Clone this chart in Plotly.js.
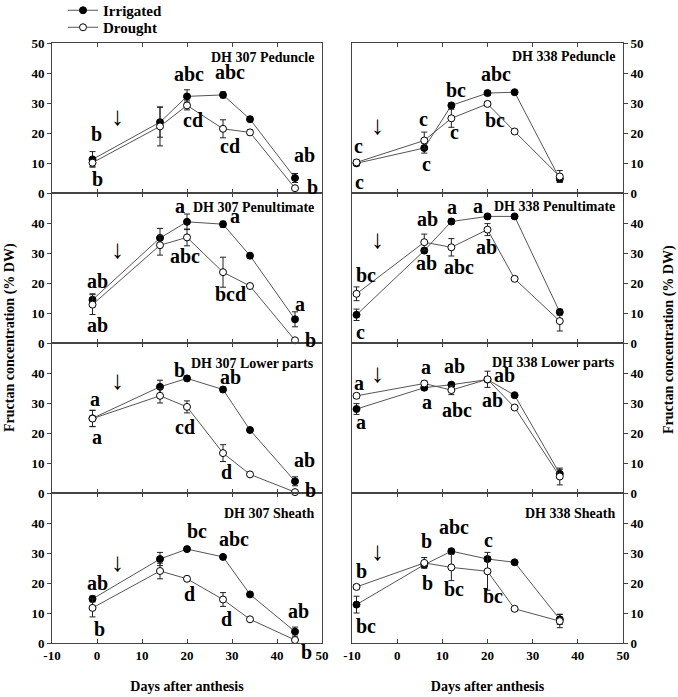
<!DOCTYPE html>
<html>
<head>
<meta charset="utf-8">
<script src="https://cdn.plot.ly/plotly-3.0.1.min.js"></script>
<style>html,body{margin:0;padding:0;background:#fff;}#chart{width:678px;height:697px;}</style>
</head>
<body>
<div id="chart"></div>
<script>
// ---------- DATA ----------
const days307 = [-1, 14, 20, 28, 34, 44];
const days338 = [-9, 6, 12, 20, 26, 36];
const xTicks = [-10, 0, 10, 20, 30, 40, 50];
const yTicksTop = [0, 10, 20, 30, 40, 50];
const yTicksLower = [0, 10, 20, 30, 40];
const seriesNames = ['Irrigated', 'Drought'];
const panelTitles = ['DH 307 Peduncle', 'DH 307 Penultimate', 'DH 307 Lower parts', 'DH 307 Sheath',
                     'DH 338 Peduncle', 'DH 338 Penultimate', 'DH 338 Lower parts', 'DH 338 Sheath'];
const xTitle = 'Days after anthesis';
const yTitle = 'Fructan concentration (% DW)';

const irr307Ped = [11.2, 23.6, 32.2, 32.7, 24.6, 5.0];
const dro307Ped = [10.1, 22.2, 29.2, 21.4, 20.2, 1.6];
const errIrr307Ped = [2.6, 5.0, 2.2, 1.0, 0.8, 1.5];
const errDro307Ped = [1.2, 6.5, 1.5, 3.0, 0.8, 0.6];

const irr307Pen = [14.4, 35.0, 40.4, 39.6, 29.1, 7.9];
const dro307Pen = [12.8, 32.6, 35.2, 23.6, 19.0, 0.9];
const errIrr307Pen = [2.0, 3.2, 2.6, 1.0, 0.8, 2.5];
const errDro307Pen = [3.3, 3.3, 2.8, 5.0, 0.8, 0.5];

const irr307Low = [24.9, 35.4, 38.2, 34.5, 21.0, 3.9];
const dro307Low = [24.8, 32.4, 28.7, 13.3, 6.2, 0.3];
const errIrr307Low = [2.7, 2.2, 0.8, 0.8, 0.6, 1.5];
const errDro307Low = [2.7, 2.4, 2.0, 2.8, 0.6, 0.4];

const irr307She = [14.7, 28.0, 31.3, 28.7, 16.2, 3.8];
const dro307She = [11.7, 24.0, 21.4, 14.5, 7.9, 1.0];
const errIrr307She = [1.0, 2.2, 0.8, 0.8, 0.6, 1.5];
const errDro307She = [3.0, 2.6, 0.8, 2.3, 0.6, 0.5];

const irr338Ped = [9.9, 15.0, 29.2, 33.3, 33.6, 4.7];
const dro338Ped = [10.2, 17.5, 24.9, 29.7, 20.5, 5.5];
const errIrr338Ped = [0.8, 1.7, 0.8, 0.8, 0.6, 1.0];
const errDro338Ped = [0.8, 2.8, 3.0, 0.8, 0.6, 2.0];

const irr338Pen = [9.4, 30.8, 40.5, 42.2, 42.2, 10.3];
const dro338Pen = [16.4, 33.6, 31.9, 37.8, 21.4, 7.3];
const errIrr338Pen = [1.9, 0.8, 0.8, 0.8, 0.6, 1.0];
const errDro338Pen = [2.3, 2.7, 2.9, 2.0, 0.6, 3.3];

const irr338Low = [28.0, 35.1, 36.1, 37.8, 32.6, 6.4];
const dro338Low = [32.4, 36.5, 34.3, 37.9, 28.5, 5.5];
const errIrr338Low = [1.8, 0.8, 0.8, 0.8, 0.6, 1.5];
const errDro338Low = [0.8, 0.8, 1.5, 2.7, 0.6, 2.8];

const irr338She = [12.8, 26.1, 30.6, 28.0, 26.9, 7.9];
const dro338She = [18.7, 26.7, 25.2, 23.9, 11.4, 7.3];
const errIrr338She = [2.8, 0.8, 0.8, 0.8, 0.6, 1.7];
const errDro338She = [0.8, 1.8, 4.4, 6.3, 0.6, 2.2];

// significance letters attached to points
const letIrr307Ped = ['b', '', 'abc', 'abc', '', 'ab'];
const letDro307Ped = ['b', '', 'cd', 'cd', '', 'b'];
const letIrr307Pen = ['ab', '', 'a', 'a', '', 'a'];
const letDro307Pen = ['ab', '', 'abc', 'bcd', '', 'b'];
const letIrr307Low = ['a', '', 'b', 'ab', '', 'ab'];
const letDro307Low = ['a', '', 'cd', 'd', '', 'b'];
const letIrr307She = ['ab', '', 'bc', 'abc', '', 'ab'];
const letDro307She = ['b', '', 'd', 'd', '', 'b'];
const letIrr338Ped = ['c', 'c', 'bc', 'abc', '', ''];
const letDro338Ped = ['c', 'c', 'c', 'bc', '', ''];
const letIrr338Pen = ['c', 'ab', 'a', 'a', '', ''];
const letDro338Pen = ['bc', 'ab', 'abc', 'ab', '', ''];
const letIrr338Low = ['a', 'a', 'ab', 'ab', '', ''];
const letDro338Low = ['a', 'a', 'abc', 'ab', '', ''];
const letIrr338She = ['bc', 'b', 'abc', 'c', '', ''];
const letDro338She = ['b', 'b', 'bc', 'bc', '', ''];

// ---------- STYLE / POSITIONS (pixel offsets of letters from their points) ----------
const offIrr = [
  [[3.6,25.5],null,[1.8,22.8],[7.2,22.8],null,[9,22.5]],
  [[4.5,19.2],null,[-6.8,15.9],[12.2,8.4],null,[4.5,15.6]],
  [[2.3,18.9],null,[-7.7,8.7],[7.2,12.6],null,[9,21.3]],
  [[5,15.9],null,[9.9,17.7],[10.8,18],null,[3.2,20.4]],
  [[2.3,17.7],[2.3,-15.9],[4.5,15],[8.6,19.5],null,null],
  [[4.1,-17.1],[2.3,-12.6],[0.9,14.1],[-9.9,10.5],null,null],
  [[4.1,-12.6],[2.3,-14.1],[2.7,19.2],[16.7,4.2],null,null],
  [[9.9,-21.6],[3.2,-18.3],[2.7,24],[0.9,19.2],null,null]
];
const offDro = [
  [[4.5,-16.2],null,[5.9,-15],[6.8,-16.8],null,[17.1,0.9]],
  [[5.4,-20.7],null,[-1.8,-18.3],[7.2,-21.6],null,[15.3,0]],
  [[4.5,-18],null,[-1.8,-20.4],[3.2,-19.2],null,[15.3,2.4]],
  [[7.2,-20.7],null,[2.3,-14.7],[3.2,-19.2],null,[11.3,-12]],
  [[3.2,-19.8],[-0.5,21.6],[3.2,-13.8],[7.2,-16.5],null,null],
  [[9,18.3],[3.2,23.1],[7.7,-20.1],[-0.9,-17.7],null,null],
  [[2.3,12.9],[1.4,16.5],[5.4,-20.1],[5,-21],null,null],
  [[5.4,15.6],[2.3,21.6],[2.7,-21.6],[5.9,-24.3],null,null]
];
const arrowX = [4.5, 4.5, 4.5, 4.5, -4.3, -4.3, -4.3, -4.3];
const arrowY = [25.5, 31, 37.6, 27, 22.5, 34.6, 40, 30.5];
const titleY = [0.906, 0.906, 0.862, 0.866, 0.91, 0.91, 0.872, 0.866];

const panels = [
  {days: days307, irr: irr307Ped, dro: dro307Ped, eI: errIrr307Ped, eD: errDro307Ped, lI: letIrr307Ped, lD: letDro307Ped},
  {days: days307, irr: irr307Pen, dro: dro307Pen, eI: errIrr307Pen, eD: errDro307Pen, lI: letIrr307Pen, lD: letDro307Pen},
  {days: days307, irr: irr307Low, dro: dro307Low, eI: errIrr307Low, eD: errDro307Low, lI: letIrr307Low, lD: letDro307Low},
  {days: days307, irr: irr307She, dro: dro307She, eI: errIrr307She, eD: errDro307She, lI: letIrr307She, lD: letDro307She},
  {days: days338, irr: irr338Ped, dro: dro338Ped, eI: errIrr338Ped, eD: errDro338Ped, lI: letIrr338Ped, lD: letDro338Ped},
  {days: days338, irr: irr338Pen, dro: dro338Pen, eI: errIrr338Pen, eD: errDro338Pen, lI: letIrr338Pen, lD: letDro338Pen},
  {days: days338, irr: irr338Low, dro: dro338Low, eI: errIrr338Low, eD: errDro338Low, lI: letIrr338Low, lD: letDro338Low},
  {days: days338, irr: irr338She, dro: dro338She, eI: errIrr338She, eD: errDro338She, lI: letIrr338She, lD: letDro338She}
];

const W = 678, H = 697;
const FONT = 'Liberation Serif, Times New Roman, serif';
const colX = [[52 / W, 322 / W], [352 / W, 623 / W]];
const rowTopPx = [43, 193, 343, 493, 643];
const lineCol = '#555';
const axisCol = '#444';
const legendFont = {family: FONT, size: 15, weight: 'bold', color: '#000'};

const traces = [];
const layout = {
  width: W, height: H, autosize: false,
  margin: {l: 0, r: 0, t: 0, b: 0, autoexpand: false},
  paper_bgcolor: '#fff', plot_bgcolor: '#fff',
  font: {family: FONT, size: 13, color: '#000', weight: 'bold'},
  showlegend: true,
  legend: {x: 63 / W, y: 1 + 6 / H, xanchor: 'left', yanchor: 'top', bgcolor: 'rgba(0,0,0,0)',
           font: legendFont, tracegroupgap: 0, itemwidth: 30},
  legend2: {x: 63 / W, y: 1 - 11 / H, xanchor: 'left', yanchor: 'top', bgcolor: 'rgba(0,0,0,0)',
           font: legendFont, tracegroupgap: 0, itemwidth: 30},
  annotations: []
};

panels.forEach((p, i) => {
  const col = i < 4 ? 0 : 1;
  const row = i % 4;
  const n = i + 1;
  const xa = 'x' + (n === 1 ? '' : n), ya = 'y' + (n === 1 ? '' : n);
  const xKey = 'xaxis' + (n === 1 ? '' : n), yKey = 'yaxis' + (n === 1 ? '' : n);
  const yDom = [1 - rowTopPx[row + 1] / H, 1 - rowTopPx[row] / H];
  layout[xKey] = {
    domain: colX[col], anchor: ya, range: [-10, 50], tickvals: xTicks, ticktext: xTicks.map(v => v < 0 ? '-' + Math.abs(v) : String(v)),
    showticklabels: row === 3, ticks: 'inside', ticklen: 4, tickcolor: axisCol, mirror: 'ticks',
    showline: true, linecolor: axisCol, linewidth: 1, showgrid: false, zeroline: false, fixedrange: true,
    tickfont: {family: FONT, size: 13, weight: 'bold'}
  };
  if (row === 3) {
    layout[xKey].title = {text: xTitle, font: {family: FONT, size: 14, weight: 'bold'}, standoff: 19};
  }
  layout[yKey] = {
    domain: yDom, anchor: xa, range: [0, 50], tickvals: row === 0 ? yTicksTop : yTicksLower,
    side: col === 0 ? 'left' : 'right', ticks: 'outside', ticklen: 4, tickcolor: axisCol, mirror: true,
    showline: true, linecolor: axisCol, linewidth: 1, showgrid: false, zeroline: false, fixedrange: true,
    tickfont: {family: FONT, size: 13, weight: 'bold'}
  };
  const series = [
    {y: p.irr, e: p.eI, fill: '#000', name: seriesNames[0], lets: p.lI, offs: offIrr[i], leg: 'legend'},
    {y: p.dro, e: p.eD, fill: '#fff', name: seriesNames[1], lets: p.lD, offs: offDro[i], leg: 'legend2'}
  ];
  series.forEach((s, k) => {
    traces.push({
      type: 'scatter', mode: 'lines+markers', x: p.days, y: s.y, xaxis: xa, yaxis: ya,
      name: s.name, showlegend: i === 0, legend: s.leg,
      line: {color: lineCol, width: 1},
      marker: {symbol: 'circle', size: 7, color: s.fill, line: {color: '#000', width: 1}},
      error_y: {type: 'data', array: s.e, visible: true, color: '#222', thickness: 1, width: 3},
      cliponaxis: false
    });
    s.lets.forEach((t, j) => {
      if (!t) return;
      const o = s.offs[j];
      layout.annotations.push({
        xref: xa, yref: ya, x: p.days[j], y: s.y[j], xshift: o[0], yshift: o[1],
        text: t, showarrow: false, xanchor: 'center', yanchor: 'middle',
        font: {family: FONT, size: 20, weight: 'bold', color: '#000'}
      });
    });
  });
  // panel title
  layout.annotations.push({
    xref: xa + ' domain', yref: ya + ' domain', x: 0.978, y: titleY[i], xanchor: 'right', yanchor: 'middle',
    text: panelTitles[i], showarrow: false, font: {family: FONT, size: 14, weight: 'bold', color: '#000'}
  });
  // arrow marking onset
  layout.annotations.push({
    xref: xa, yref: ya, x: arrowX[i], y: arrowY[i], xanchor: 'center', yanchor: 'middle',
    text: '\u2193', showarrow: false, font: {family: 'Liberation Serif', size: 26, weight: 'normal', color: '#000'}
  });
});

// shared y titles
layout.annotations.push({
  xref: 'paper', yref: 'paper', x: 10 / W, y: 1 - 338 / H, xanchor: 'center', yanchor: 'middle',
  text: yTitle, textangle: -90, showarrow: false, font: {family: FONT, size: 14, weight: 'bold', color: '#000'}
});
layout.annotations.push({
  xref: 'paper', yref: 'paper', x: 669 / W, y: 1 - 340 / H, xanchor: 'center', yanchor: 'middle',
  text: yTitle, textangle: -90, showarrow: false, font: {family: FONT, size: 14, weight: 'bold', color: '#000'}
});

Plotly.newPlot('chart', traces, layout, {displayModeBar: false, staticPlot: true});
</script>
</body>
</html>
